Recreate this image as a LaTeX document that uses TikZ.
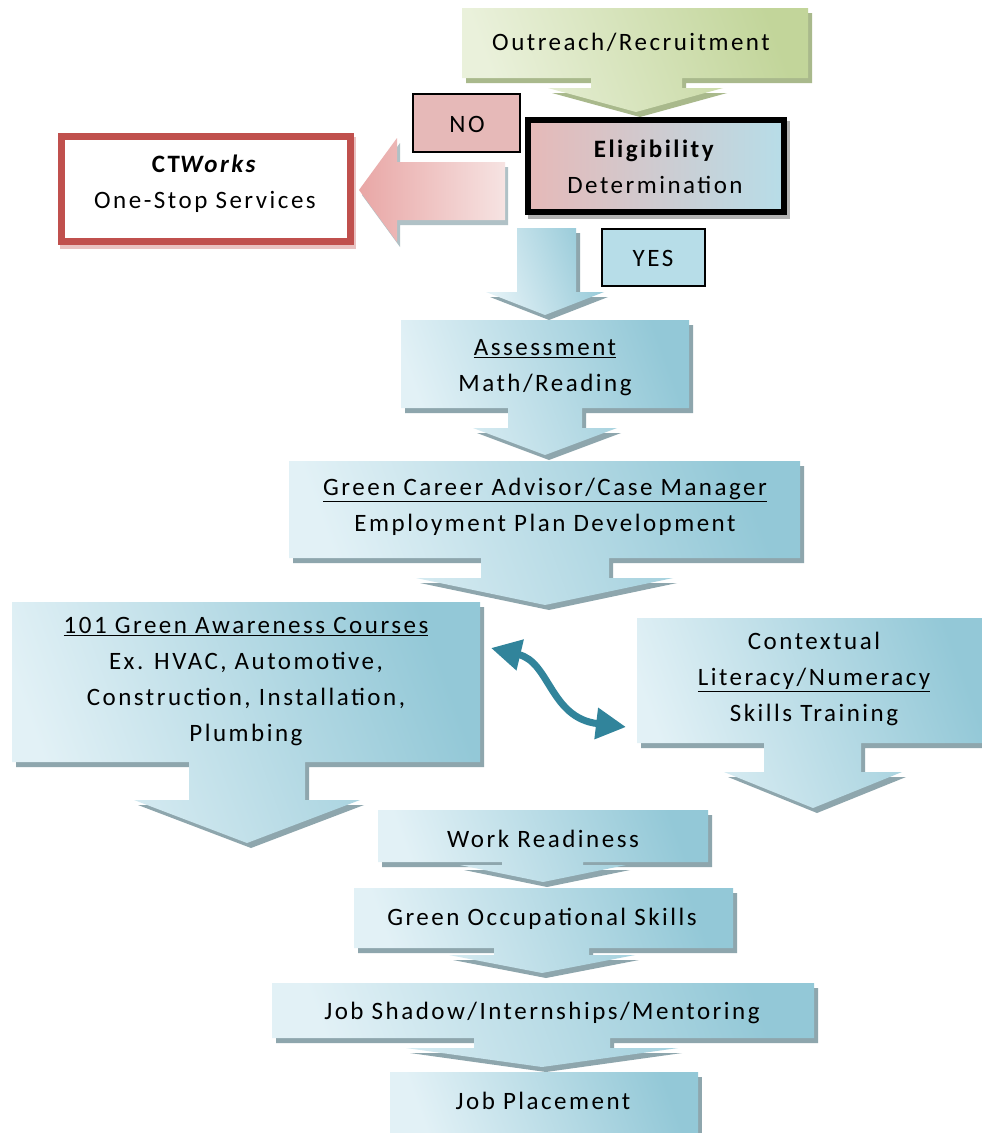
\documentclass[tikz,border=0pt]{standalone}
\usepackage{fontspec}
\setmainfont{Carlito}
\newfontfamily\lsf[LetterSpace=10]{Carlito}
\usetikzlibrary{arrows.meta}
\definecolor{bL}{HTML}{E2F1F6}
\definecolor{bD}{HTML}{93C8D7}
\definecolor{gL}{HTML}{EAF1DB}
\definecolor{gD}{HTML}{C2D59A}
\definecolor{pk}{HTML}{E6B9B8}
\definecolor{pkL}{HTML}{F6E3E2}
\definecolor{yb}{HTML}{B7DDE8}
\definecolor{shd}{HTML}{8EA6AD}
\definecolor{gshd}{HTML}{A9B98C}
\definecolor{tealc}{HTML}{31849B}
\definecolor{redb}{HTML}{C0504D}
\tikzset{
  bluefill/.style={left color=bL, right color=bD, shading angle=110},
  greenfill/.style={left color=gL, right color=gD, shading angle=110},
  txt/.style={font=\lsf\fontsize{25}{36}\selectfont, align=center, inner sep=0pt},
  tagbox/.style={draw=black, line width=2.5},
}
\newcommand\callout[3]{%
  \path[fill=#2, shift={(4,5)}] #3;
  \path[#1] #3;}
\begin{document}
\begin{tikzpicture}[x=1pt, y=-1pt]
\useasboundingbox (0,0) rectangle (982,1133);
\fill[white] (0,0) rectangle (982,1133);

% Outreach
\callout{greenfill}{gshd}{(462,8) -- (808,8) -- (808,78) -- (682,78) -- (682,88) -- (723,88) -- (636,112) -- (548,88) -- (591,88) -- (591,78) -- (462,78) -- cycle}

% NO box
\path[tagbox, fill=pk] (413,94) rectangle (520,152);

% Eligibility
\fill[gray!60, shift={(3,4)}] (525,117) rectangle (787,215);
\path[left color=pk, right color=yb, draw=black, line width=6] (528,120) rectangle (784,212);

% CTWorks
\fill[redb!35, shift={(2,4)}] (58,133) rectangle (354,245);
\path[fill=white, draw=redb, line width=7] (61.5,136.5) rectangle (350.5,241.5);

% left arrow
\fill[shd!70, shift={(3,5)}] (359,190) -- (397,138) -- (397,162) -- (505,162) -- (505,220) -- (397,220) -- (397,242) -- cycle;
\path[left color=pk!90!red, right color=pkL] (359,190) -- (397,138) -- (397,162) -- (505,162) -- (505,220) -- (397,220) -- (397,242) -- cycle;

% YES arrow
\callout{bluefill}{shd}{(517,228) -- (576,228) -- (576,292) -- (604,292) -- (545,315) -- (486,292) -- (517,292) -- cycle}
% YES box
\path[tagbox, fill=yb] (602,229) rectangle (705,286);

% Assessment
\callout{bluefill}{shd}{(401,320) -- (689,320) -- (689,408) -- (582,408) -- (582,428) -- (617,428) -- (545,455) -- (473,428) -- (508,428) -- (508,408) -- (401,408) -- cycle}
% Career
\callout{bluefill}{shd}{(289,461) -- (800,461) -- (800,558) -- (609,558) -- (609,578) -- (673,578) -- (545,605) -- (416,578) -- (481,578) -- (481,558) -- (289,558) -- cycle}
% 101
\callout{bluefill}{shd}{(12,602) -- (480,602) -- (480,762) -- (305,762) -- (305,800) -- (360,800) -- (247,843) -- (134,800) -- (189,800) -- (189,762) -- (12,762) -- cycle}
% Contextual
\callout{bluefill}{shd}{(637,618) -- (990,618) -- (990,743) -- (861,743) -- (861,772) -- (902,772) -- (813,808) -- (724,772) -- (764,772) -- (764,743) -- (637,743) -- cycle}
% Work Readiness
\callout{bluefill}{shd}{(378,810) -- (708,810) -- (708,862) -- (583,862) -- (583,865) -- (626,865) -- (543,882) -- (460,865) -- (502,865) -- (502,862) -- (378,862) -- cycle}
% Green Occupational
\callout{bluefill}{shd}{(354,888) -- (733,888) -- (733,948) -- (589,948) -- (589,955) -- (635,955) -- (542,973) -- (449,955) -- (494,955) -- (494,948) -- (354,948) -- cycle}
% Job Shadow
\callout{bluefill}{shd}{(272,983) -- (814,983) -- (814,1038) -- (610,1038) -- (610,1048) -- (678,1048) -- (542,1067) -- (406,1048) -- (474,1048) -- (474,1038) -- (272,1038) -- cycle}
% Job Placement
\callout{bluefill}{shd}{(390,1072) -- (698,1072) -- (698,1132) -- (390,1132) -- cycle}

% double arrow
\coordinate (d1) at (491,648);
\coordinate (d2) at (626,727);
\draw[tealc, line width=7, {Triangle[width=30pt,length=30pt]}-{Triangle[width=30pt,length=30pt]}] (d1) .. controls (550,662) and (550,718) .. (d2);

% texts
\node[txt] (outr) at (631,42) {Outreach/Recruitment};
\node[txt] (no) at (467,124) {NO};
\node[txt] (elig) at (655,167) {\textbf{Eligibility}\\Determination};
\node[txt] (ctw) at (205,184) {\textbf{CT\textit{Works}}\\One-Stop Services};
\node[txt] (yes) at (653,258) {YES};
\node[txt] (assess) at (545,368) {\underline{Assessment}\\Math/Reading};
\node[txt] (career) at (545,507) {\underline{Green Career Advisor/Case Manager}\\Employment Plan Development};
\node[txt] (aware) at (246,682) {\underline{101 Green Awareness Courses}\\Ex. HVAC, Automotive,\\Construction, Installation,\\Plumbing};
\node[txt] (ctx) at (814,679) {Contextual\\\underline{Literacy/Numeracy}\\Skills Training};
\node[txt] (work) at (543,839) {Work Readiness};
\node[txt] (occ) at (542,919) {Green Occupational Skills};
\node[txt] (shadow) at (542,1013) {Job Shadow/Internships/Mentoring};
\node[txt] (place) at (543,1101) {Job Placement};
\end{tikzpicture}
\end{document}
